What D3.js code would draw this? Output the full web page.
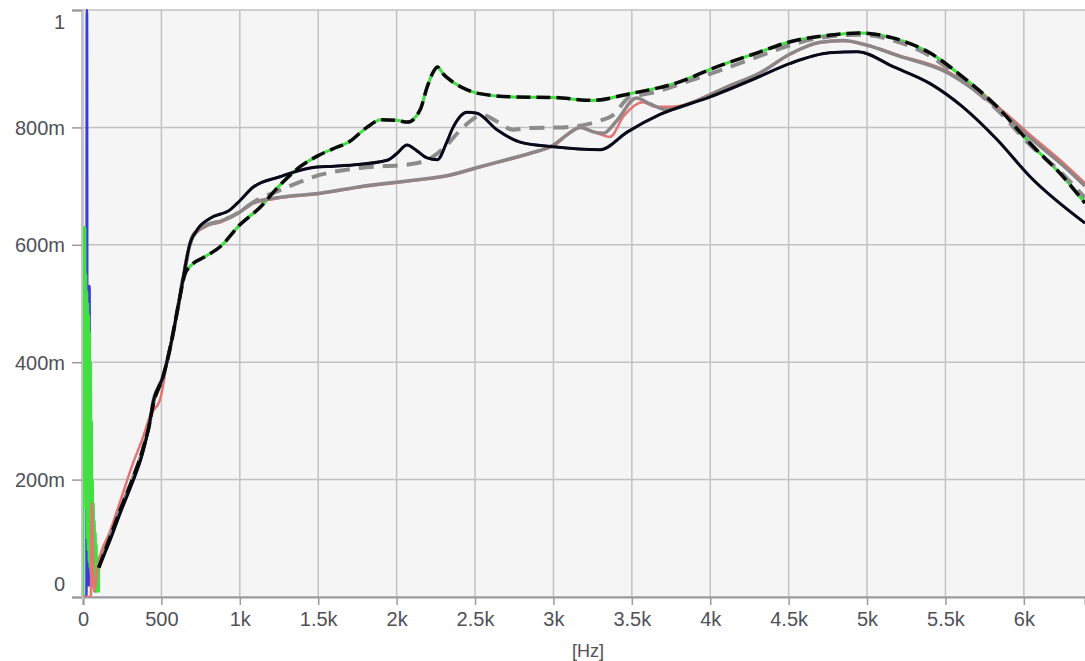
<!DOCTYPE html>
<html>
<head>
<meta charset="utf-8">
<script src="https://cdn.jsdelivr.net/npm/d3@7"></script>
<style>
  body { margin: 0; background: #fff; }
  text { font-family: "Liberation Sans", Arial, sans-serif; }
</style>
</head>
<body>
<div id="vis"></div>
<script>
const W = 1085;
const H = 661;

// x ticks in Hz and their labels
const xTicks = [0, 500, 1000, 1500, 2000, 2500, 3000, 3500, 4000, 4500, 5000, 5500, 6000];
const xTickLabels = ['0', '500', '1k', '1.5k', '2k', '2.5k', '3k', '3.5k', '4k', '4.5k', '5k', '5.5k', '6k'];
const yTicks = [0, 0.2, 0.4, 0.6, 0.8, 1];
const yTickLabels = ['0', '200m', '400m', '600m', '800m', '1'];

// [Hz, value]
const blackDashed = [
  [100, 0.05], [170, 0.1], [240, 0.15], [300, 0.19], [380, 0.25], [420, 0.29], [450, 0.33],
  [510, 0.375], [560, 0.43], [610, 0.5], [650, 0.55], [690, 0.565], [780, 0.58], [880, 0.598],
  [1000, 0.634], [1130, 0.664], [1250, 0.7], [1384, 0.733], [1500, 0.752], [1590, 0.763],
  [1700, 0.776], [1810, 0.8], [1900, 0.813], [2000, 0.812], [2070, 0.809], [2150, 0.83],
  [2195, 0.869], [2235, 0.895], [2260, 0.903], [2300, 0.89], [2360, 0.877], [2450, 0.864],
  [2520, 0.858], [2740, 0.852], [3000, 0.851], [3250, 0.846], [3480, 0.857], [3800, 0.877],
  [4020, 0.901], [4300, 0.927], [4510, 0.946], [4760, 0.957], [4950, 0.961], [5170, 0.952],
  [5400, 0.927], [5610, 0.886], [5830, 0.835], [6040, 0.773], [6250, 0.716], [6390, 0.671]
];

const blackSolid = [
  [100, 0.05], [170, 0.095], [240, 0.145], [300, 0.185], [380, 0.245], [420, 0.29], [450, 0.335],
  [510, 0.375], [560, 0.43], [610, 0.5], [650, 0.56], [675, 0.595], [727, 0.625], [810, 0.645],
  [940, 0.66], [1000, 0.675], [1084, 0.698], [1256, 0.716], [1448, 0.731], [1600, 0.734],
  [1720, 0.736], [1940, 0.744], [2000, 0.755], [2066, 0.77], [2130, 0.76], [2194, 0.748],
  [2260, 0.745], [2320, 0.775], [2360, 0.8], [2449, 0.826], [2513, 0.824], [2640, 0.796],
  [2787, 0.775], [3000, 0.767], [3300, 0.762], [3470, 0.792], [3680, 0.822], [4000, 0.852],
  [4300, 0.885], [4510, 0.909], [4760, 0.927], [4940, 0.929], [5170, 0.903], [5400, 0.875],
  [5610, 0.835], [5830, 0.779], [6040, 0.716], [6390, 0.637]
];

const graySolid = [
  [100, 0.05], [170, 0.1], [240, 0.15], [300, 0.19], [380, 0.25], [420, 0.29], [450, 0.335],
  [510, 0.375], [560, 0.43], [610, 0.5], [650, 0.56], [682, 0.6], [700, 0.615], [800, 0.635],
  [874, 0.64], [1000, 0.656], [1084, 0.672], [1237, 0.68], [1400, 0.685], [1511, 0.688],
  [1767, 0.699], [2105, 0.71], [2341, 0.719], [2532, 0.733], [2700, 0.745], [2851, 0.756],
  [3000, 0.77], [3100, 0.79], [3170, 0.8], [3260, 0.792], [3320, 0.79], [3400, 0.81],
  [3530, 0.85], [3616, 0.84], [3724, 0.83], [3890, 0.843], [4107, 0.869], [4318, 0.893],
  [4510, 0.925], [4700, 0.945], [4850, 0.948], [5000, 0.94], [5200, 0.922], [5500, 0.895],
  [5800, 0.84], [6050, 0.78], [6250, 0.735], [6390, 0.7]
];

const grayDashed = [
  [100, 0.05], [170, 0.1], [240, 0.15], [300, 0.19], [380, 0.25], [420, 0.29], [450, 0.335],
  [510, 0.375], [560, 0.43], [610, 0.5], [650, 0.56], [682, 0.6], [700, 0.615], [800, 0.635],
  [874, 0.64], [1000, 0.656], [1084, 0.672], [1256, 0.693], [1511, 0.719], [1767, 0.731],
  [2105, 0.738], [2232, 0.75], [2320, 0.77], [2423, 0.8], [2551, 0.821], [2640, 0.81],
  [2742, 0.796], [2851, 0.799], [3061, 0.8], [3278, 0.81], [3380, 0.821], [3488, 0.852],
  [3552, 0.855], [3699, 0.864], [3807, 0.874], [4018, 0.893], [4300, 0.92], [4510, 0.94],
  [4760, 0.955], [4950, 0.958], [5170, 0.948], [5400, 0.922], [5610, 0.88], [5830, 0.83],
  [6040, 0.77], [6250, 0.72], [6390, 0.68]
];

// thin coloured traces: low-frequency spikes, then the body they share with a thick trace
const blueSpikes = [
  [0, 0], [22, 0.0], [24, 1.0], [26, 1.0], [28, 0.02], [38, 0.02], [40, 0.53], [42, 0.53],
  [44, 0.02], [60, 0.02], [62, 0.12], [70, 0.01], [90, 0.04]
];
const greenSpikes = [
  [0, 0], [3, 0.5], [6, 0.2], [9, 0.63], [12, 0.63], [15, 0.2], [18, 0.55], [21, 0.15],
  [24, 0.52], [27, 0.1], [30, 0.5], [33, 0.08], [36, 0.48], [39, 0.06], [42, 0.45], [45, 0.05],
  [48, 0.4], [51, 0.04], [54, 0.3], [57, 0.03], [60, 0.2], [63, 0.02], [66, 0.16], [69, 0.02],
  [72, 0.13], [75, 0.01], [78, 0.11], [81, 0.01], [84, 0.09], [87, 0.01], [90, 0.07],
  [93, 0.01], [96, 0.05], [99, 0.01]
];
const redPoints = [
  [0, 0], [50, 0], [56, 0.16], [62, 0.1], [70, 0.01], [100, 0.06], [170, 0.11], [240, 0.165],
  [319, 0.228], [380, 0.27], [430, 0.31], [491, 0.336], [530, 0.39], [580, 0.46], [630, 0.53],
  [670, 0.59], [700, 0.612], [800, 0.633], [874, 0.638], [1000, 0.655], [1084, 0.67],
  [1237, 0.679], [1511, 0.687], [1767, 0.698], [2105, 0.709], [2341, 0.718], [2532, 0.732],
  [2851, 0.755], [3000, 0.768], [3170, 0.8], [3280, 0.79], [3361, 0.784], [3450, 0.82],
  [3571, 0.843], [3650, 0.835], [3750, 0.835], [4062, 0.864], [4318, 0.893], [4510, 0.925],
  [4700, 0.944], [4850, 0.947], [5000, 0.94], [5200, 0.923], [5500, 0.897], [5800, 0.843],
  [6050, 0.785], [6250, 0.74], [6390, 0.705]
];

const x = d3.scaleLinear().domain([0, 6390]).range([83, 1085]);
const y = d3.scaleLinear().domain([0, 1]).range([597, 10]);

const svg = d3.select('#vis').append('svg').attr('width', W).attr('height', H);

// plot background
svg.append('rect')
  .attr('x', x(0)).attr('y', y(1))
  .attr('width', x(6390) - x(0)).attr('height', y(0) - y(1))
  .attr('fill', '#f5f5f6');

// grid
const grid = svg.append('g').attr('class', 'grid');
grid.selectAll('line.v').data(xTicks.slice(1)).join('line')
  .attr('x1', (d) => x(d)).attr('x2', (d) => x(d))
  .attr('y1', y(1)).attr('y2', y(0))
  .attr('stroke', '#c2c2c2').attr('stroke-width', 1.5);
grid.selectAll('line.h').data(yTicks).join('line')
  .attr('x1', x(0)).attr('x2', x(6390))
  .attr('y1', (d) => y(d)).attr('y2', (d) => y(d))
  .attr('stroke', '#c2c2c2').attr('stroke-width', 1.5);

// axes
const xAxis = d3.axisBottom(x).tickValues(xTicks)
  .tickFormat((d, i) => xTickLabels[i]).tickSize(8).tickPadding(7);
const gx = svg.append('g').attr('transform', `translate(0,${y(0)})`).call(xAxis);
gx.select('.domain').attr('stroke', '#9a9a9a').attr('stroke-width', 2);
gx.selectAll('.tick line').attr('stroke', '#9a9a9a').attr('stroke-width', 1.5);
gx.selectAll('.tick text').attr('font-size', 20).attr('fill', '#505058')
  .attr('font-family', '"Liberation Sans", Arial, sans-serif');

const yAxis = d3.axisLeft(y).tickValues(yTicks)
  .tickFormat((d, i) => yTickLabels[i]).tickSize(10).tickPadding(7);
const gy = svg.append('g').attr('transform', `translate(${x(0) - 1},0)`).call(yAxis);
gy.select('.domain').attr('stroke', '#c4c4c4').attr('stroke-width', 3);
gy.selectAll('.tick line').attr('stroke', '#9a9a9a').attr('stroke-width', 1.5);
gy.selectAll('.tick text').attr('font-size', 20).attr('fill', '#505058')
  .attr('font-family', '"Liberation Sans", Arial, sans-serif')
  .attr('dy', (d) => (d === 1 ? '0.9em' : d === 0 ? '-0.35em' : '0.35em'));

svg.append('text')
  .attr('x', x(3220)).attr('y', 657)
  .attr('text-anchor', 'middle')
  .attr('font-size', 18).attr('fill', '#505058')
  .text('[Hz]');

// traces
svg.append('clipPath').attr('id', 'plot-clip')
  .append('rect').attr('x', x(0)).attr('y', y(1) - 1)
  .attr('width', x(6390) - x(0)).attr('height', y(0) - y(1) + 1);

const line = d3.line()
  .x((d) => x(d[0]))
  .y((d) => y(d[1]))
  .curve(d3.curveMonotoneX);

const traces = svg.append('g').attr('clip-path', 'url(#plot-clip)');

const series = [
  { data: blueSpikes.concat(blackSolid), color: '#3a3ae0', width: 2.5, dash: null },
  { data: greenSpikes.concat(blackDashed), color: '#3fe03f', width: 3, dash: null },
  { data: redPoints, color: '#e57373', width: 2.5, dash: null },
  { data: graySolid, color: '#8e8686', width: 3.5, dash: null },
  { data: grayDashed, color: '#8c8c8c', width: 4, dash: '15,9' },
  { data: blackSolid, color: '#0a0a14', width: 3, dash: null },
  { data: blackDashed, color: '#0a0a0a', width: 3.5, dash: '14,6' }
];

traces.selectAll('path').data(series).join('path')
  .attr('d', (d) => line(d.data))
  .attr('fill', 'none')
  .attr('stroke', (d) => d.color)
  .attr('stroke-width', (d) => d.width)
  .attr('stroke-dasharray', (d) => d.dash)
  .attr('stroke-linejoin', 'round');
</script>
</body>
</html>
